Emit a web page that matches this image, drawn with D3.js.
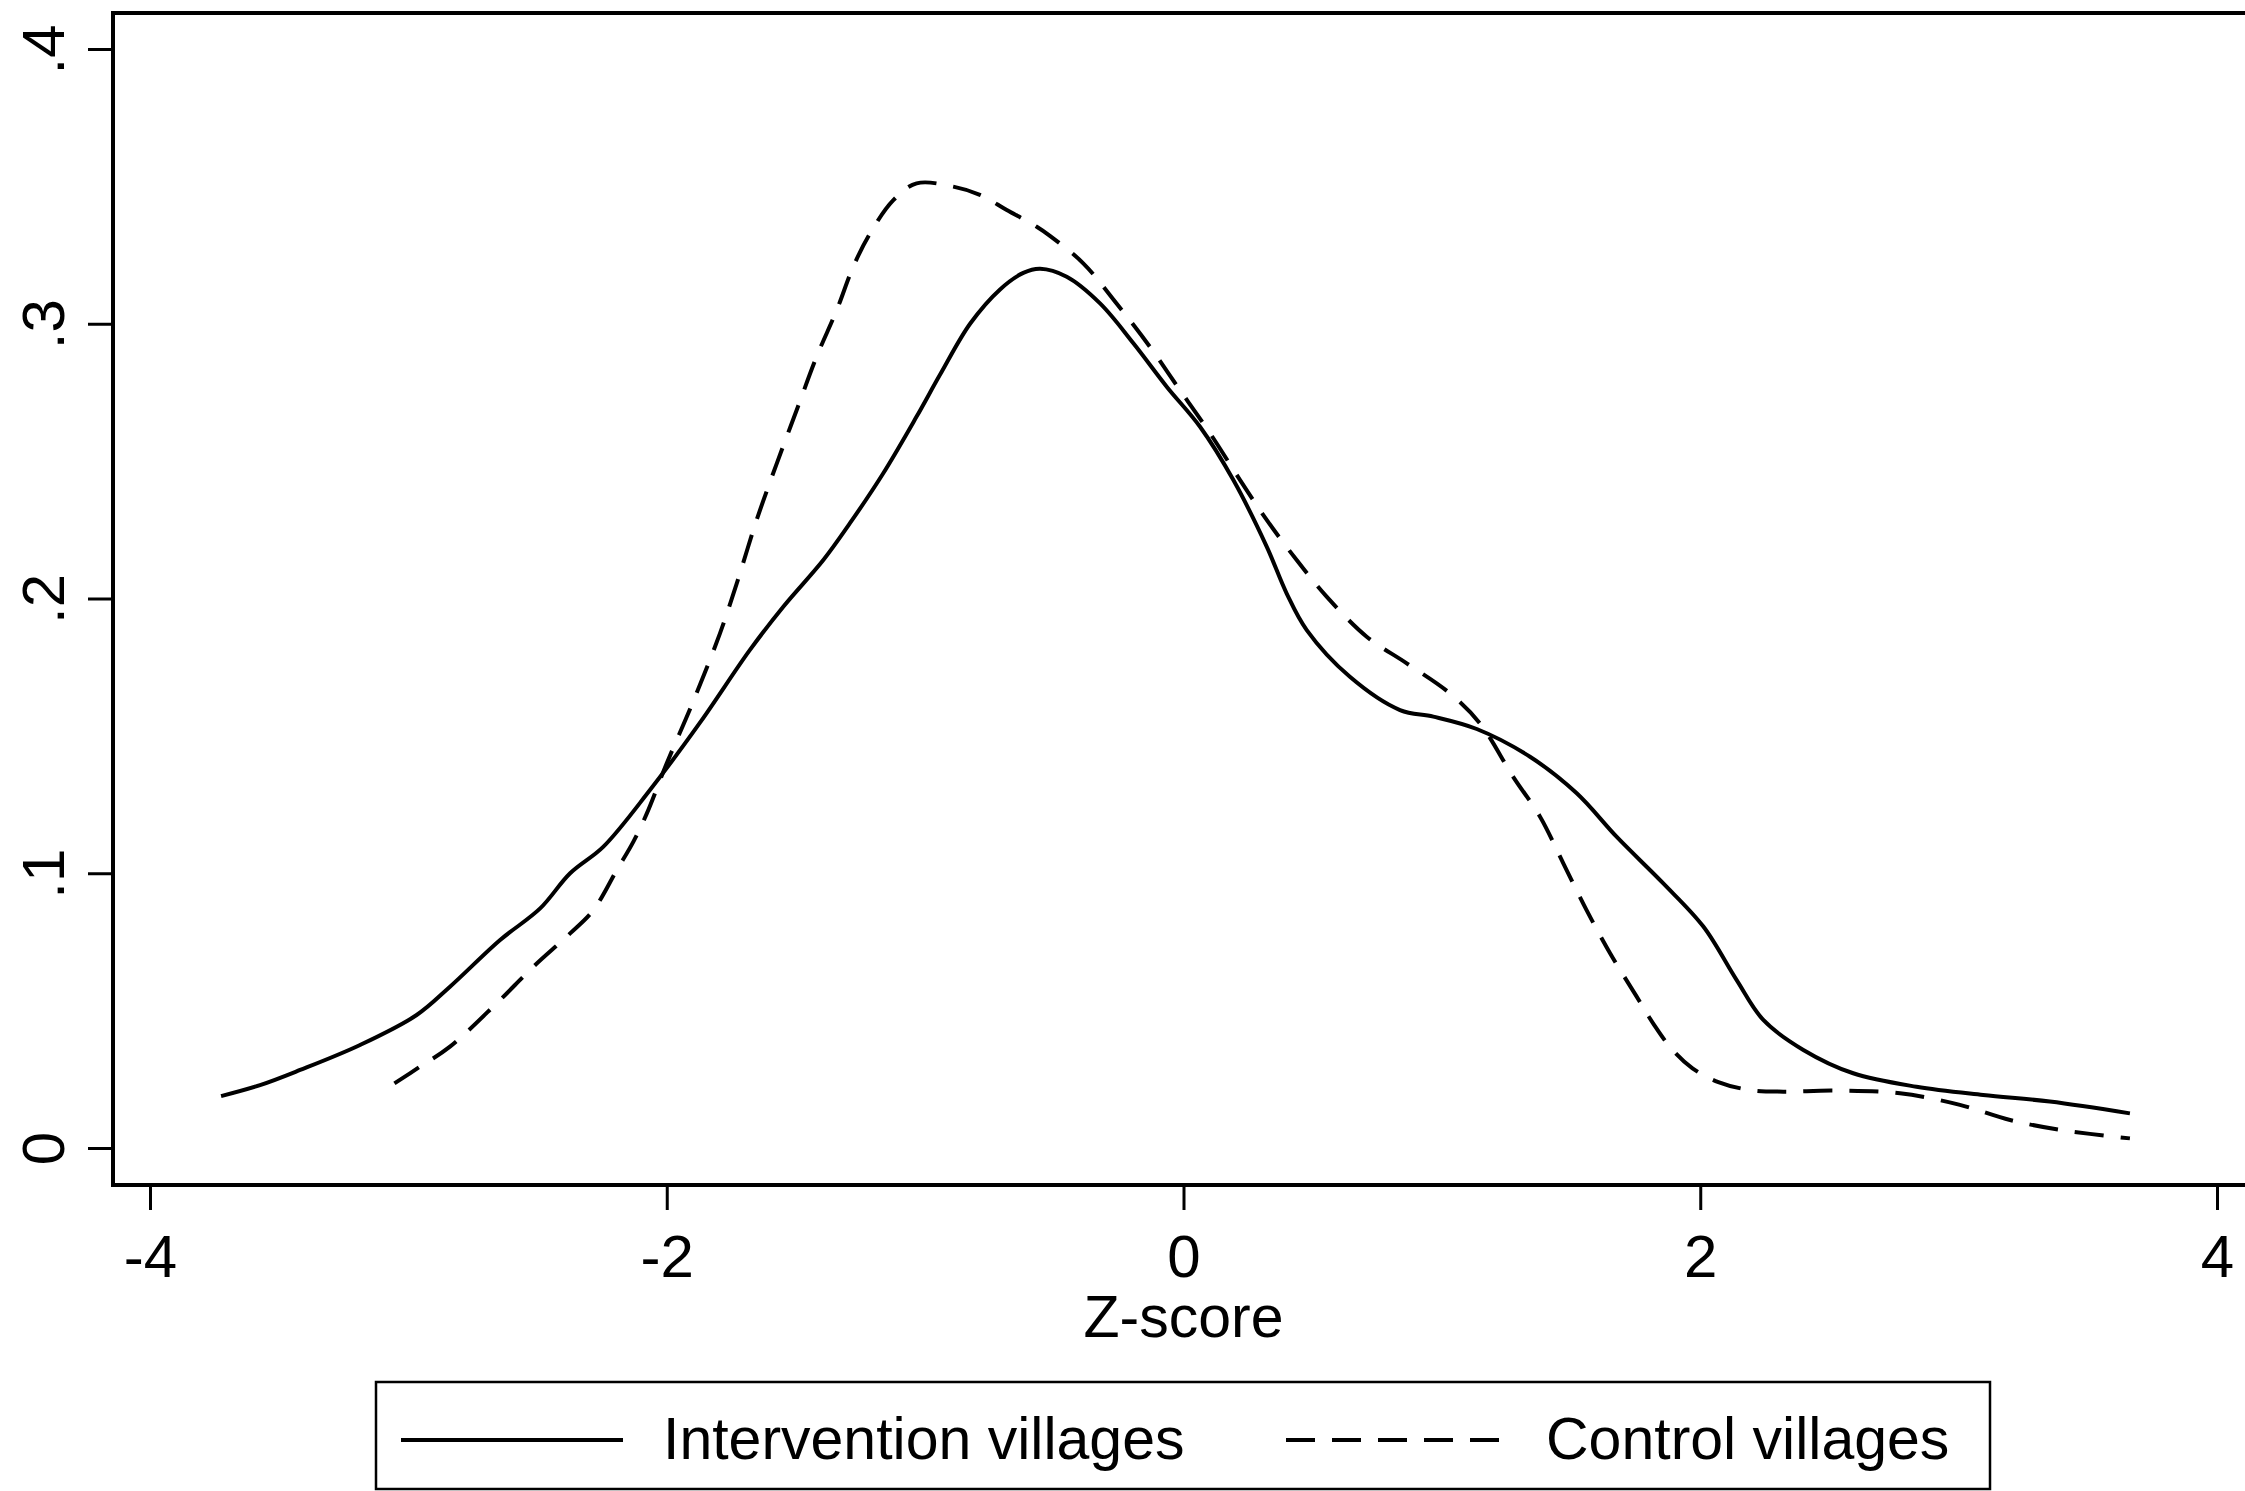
<!DOCTYPE html>
<html>
<head>
<meta charset="utf-8">
<script src="https://cdn.jsdelivr.net/npm/d3@7"></script>
<style>
  html, body { margin: 0; padding: 0; background: #fff; }
  svg { display: block; }
  text { font-family: "Liberation Sans", Arial, sans-serif; fill: #000; }
</style>
</head>
<body>
<script>
// ---- Data ----
const interventionX = [-3.725,-3.574,-3.419,-3.187,-2.968,-2.839,-2.645,-2.490,-2.374,-2.245,-2.065,-1.87,-1.678,-1.549,-1.394,-1.291,-1.162,-1.033,-0.942,-0.826,-0.710,-0.620,-0.555,-0.452,-0.323,-0.194,-0.065,0.064,0.193,0.322,0.399,0.477,0.644,0.838,0.967,1.135,1.341,1.522,1.676,1.857,2.012,2.141,2.244,2.399,2.592,2.837,3.095,3.353,3.663];
const interventionY = [0.0189,0.0229,0.0284,0.0375,0.0484,0.0587,0.0757,0.0872,0.1000,0.1097,0.1303,0.155,0.1813,0.197,0.214,0.2274,0.2456,0.2662,0.2815,0.3000,0.3125,0.3185,0.3200,0.3171,0.3074,0.2929,0.2771,0.2625,0.2431,0.2189,0.2019,0.1885,0.1715,0.1594,0.157,0.1525,0.1424,0.1291,0.1133,0.0963,0.0806,0.0611,0.0466,0.0357,0.0272,0.0223,0.0193,0.0169,0.0126];

const controlX = [-3.054,-2.955,-2.839,-2.658,-2.516,-2.374,-2.284,-2.193,-2.129,-2.077,-2.0,-1.9,-1.794,-1.729,-1.652,-1.574,-1.497,-1.420,-1.342,-1.278,-1.213,-1.123,-1.033,-0.891,-0.788,-0.684,-0.568,-0.517,-0.388,-0.259,-0.130,-0.014,0.103,0.219,0.322,0.438,0.554,0.709,0.864,1.031,1.147,1.276,1.380,1.470,1.560,1.651,1.754,1.82,1.89,1.97,2.07,2.192,2.321,2.515,2.773,3.005,3.199,3.392,3.663];
const controlY = [0.0235,0.0296,0.0369,0.0527,0.0660,0.0781,0.0866,0.1012,0.1115,0.1218,0.140,0.162,0.1873,0.2055,0.2286,0.2492,0.2686,0.288,0.305,0.3208,0.3329,0.345,0.3511,0.3499,0.3469,0.3414,0.3353,0.332,0.322,0.3074,0.2916,0.2759,0.2601,0.2431,0.2286,0.214,0.2007,0.1861,0.1764,0.1655,0.1546,0.1351,0.1206,0.1036,0.0866,0.0709,0.0551,0.0450,0.0360,0.0290,0.0240,0.0211,0.0205,0.0209,0.0199,0.0157,0.0102,0.0066,0.0035];

const xTicks = [-4, -2, 0, 2, 4];
const xTickLabels = ["-4", "-2", "0", "2", "4"];
const yTicks = [0, 0.1, 0.2, 0.3, 0.4];
const yTickLabels = ["0", ".1", ".2", ".3", ".4"];
const xTitle = "Z-score";
const seriesNames = ["Intervention villages", "Control villages"];

// ---- Layout ----
const W = 2245, H = 1491;
const svg = d3.select("body").append("svg").attr("width", W).attr("height", H);

const x = d3.scaleLinear().domain([-4, 4]).range([150, 2217]);
const y = d3.scaleLinear().domain([0, 0.4]).range([1148, 49]);

const frameL = 113, frameT = 13, frameB = 1185;
const FS = 60;

// frame (right side runs off the canvas as in the reference)
svg.append("rect")
  .attr("x", frameL).attr("y", frameT)
  .attr("width", W + 20 - frameL).attr("height", frameB - frameT)
  .attr("fill", "none").attr("stroke", "#000").attr("stroke-width", 4);

// y axis
const yAxis = d3.axisLeft(y).tickValues(yTicks).tickSize(25)
  .tickFormat((d, i) => yTickLabels[i]);
const gy = svg.append("g").attr("transform", `translate(${frameL},0)`).call(yAxis);
gy.select(".domain").remove();
gy.selectAll(".tick line").attr("stroke", "#000").attr("stroke-width", 3);
gy.selectAll(".tick text")
  .attr("x", null).attr("dy", null)
  .attr("transform", `translate(${64 - frameL},0) rotate(-90)`)
  .attr("text-anchor", "middle")
  .style("font-size", FS + "px")
  .style("font-family", '"Liberation Sans", Arial, sans-serif');

// x axis
const xAxis = d3.axisBottom(x).tickValues(xTicks).tickSize(25)
  .tickFormat((d, i) => xTickLabels[i]);
const gx = svg.append("g").attr("transform", `translate(0,${frameB})`).call(xAxis);
gx.select(".domain").remove();
gx.selectAll(".tick line").attr("stroke", "#000").attr("stroke-width", 3);
gx.selectAll(".tick text")
  .attr("y", 1277 - frameB).attr("dy", null)
  .attr("text-anchor", "middle")
  .style("font-size", FS + "px")
  .style("font-family", '"Liberation Sans", Arial, sans-serif');

// x title
svg.append("text")
  .attr("x", x(0)).attr("y", 1337)
  .attr("text-anchor", "middle")
  .style("font-size", "59px")
  .text(xTitle);

// curves
const line = d3.line()
  .x(d => x(d[0])).y(d => y(d[1]))
  .curve(d3.curveCatmullRom.alpha(0.5));

const interventionData = interventionX.map((v, i) => [v, interventionY[i]]);
const controlData = controlX.map((v, i) => [v, controlY[i]]);

svg.append("path").datum(interventionData)
  .attr("d", line).attr("fill", "none")
  .attr("stroke", "#000").attr("stroke-width", 4)
  .attr("stroke-linejoin", "round");

svg.append("path").datum(controlData)
  .attr("d", line).attr("fill", "none")
  .attr("stroke", "#000").attr("stroke-width", 4)
  .attr("stroke-dasharray", "29,17");

// legend
const lg = svg.append("g");
lg.append("rect")
  .attr("x", 376).attr("y", 1382).attr("width", 1990 - 376).attr("height", 1489 - 1382)
  .attr("fill", "#fff").attr("stroke", "#000").attr("stroke-width", 2.5);
const legY = 1440;
lg.append("line").attr("x1", 401).attr("x2", 623).attr("y1", legY).attr("y2", legY)
  .attr("stroke", "#000").attr("stroke-width", 4);
lg.append("text").attr("x", 663).attr("y", 1459).style("font-size", "59px").text(seriesNames[0]);
lg.append("line").attr("x1", 1286).attr("x2", 1515).attr("y1", legY).attr("y2", legY)
  .attr("stroke", "#000").attr("stroke-width", 4).attr("stroke-dasharray", "29,17");
lg.append("text").attr("x", 1546).attr("y", 1459).style("font-size", "59px").text(seriesNames[1]);
</script>
</body>
</html>
